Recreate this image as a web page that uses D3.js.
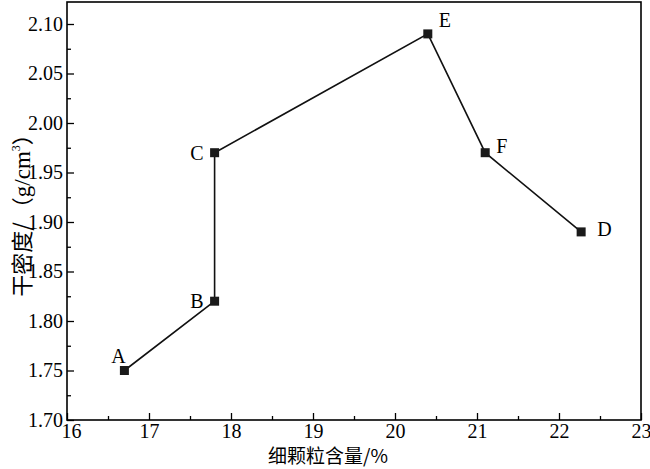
<!DOCTYPE html>
<html><head><meta charset="utf-8">
<script src="https://cdn.jsdelivr.net/npm/d3@7"></script>
<style>body{margin:0;background:#fff}</style>
</head><body>
<svg id="c" width="650" height="469"></svg>
<script>
const labels = ["A","B","C","E","F","D"];
const xValues = [16.7, 17.8, 17.8, 20.4, 21.1, 22.27];
const yValues = [1.75, 1.82, 1.97, 2.09, 1.97, 1.89];
const xTicks = [16,17,18,19,20,21,22,23];
const yTicks = [1.70,1.75,1.80,1.85,1.90,1.95,2.00,2.05,2.10];

// label placement relative to marker (style, not data)
const labelOffset = {A:[-6,-8,"middle"], B:[-11,7,"end"], C:[-11,7,"end"], E:[11,-7,"start"], F:[11,0,"start"], D:[16,4,"start"]};

const svg = d3.select("#c");
const L=67, R=641, T=2, B=420;
const x = d3.scaleLinear().domain([16,23]).range([L,R]);
const y = d3.scaleLinear().domain([1.70,2.10]).range([B,24]);
const serif = "'Liberation Serif','Times New Roman',serif";
const cjk = "'Noto Sans CJK SC','Noto Sans CJK JP',sans-serif";

// frame
svg.append("rect").attr("x",L).attr("y",T).attr("width",R-L).attr("height",B-T)
  .attr("fill","none").attr("stroke","#000").attr("stroke-width",1.6);

// x axis
const xMinor = d3.range(16.5,23,1);
const gx = svg.append("g").attr("transform",`translate(0,${B})`)
  .call(d3.axisBottom(x).tickValues(xTicks).tickSizeInner(-7).tickSizeOuter(0).tickPadding(4).tickFormat(d3.format("d")));
gx.select(".domain").remove();
gx.selectAll(".tick line").attr("stroke-width",1.3);
gx.selectAll("text").attr("font-family",serif).attr("font-size",20).attr("fill","#000")
  .attr("dx",d=>d===16?4:0);
svg.append("g").attr("transform",`translate(0,${B})`)
  .call(d3.axisBottom(x).tickValues(xMinor).tickSizeInner(-4).tickSizeOuter(0).tickFormat(""))
  .call(g=>{g.select(".domain").remove();g.selectAll(".tick line").attr("stroke-width",1.3);});

// y axis
const yMinor = d3.range(1.725,2.11,0.05);
const gy = svg.append("g").attr("transform",`translate(${L},0)`)
  .call(d3.axisLeft(y).tickValues(yTicks).tickSizeInner(-7).tickSizeOuter(0).tickPadding(4).tickFormat(d3.format(".2f")));
gy.select(".domain").remove();
gy.selectAll(".tick line").attr("stroke-width",1.3);
gy.selectAll("text").attr("font-family",serif).attr("font-size",20).attr("fill","#000");
svg.append("g").attr("transform",`translate(${L},0)`)
  .call(d3.axisLeft(y).tickValues(yMinor).tickSizeInner(-4).tickSizeOuter(0).tickFormat(""))
  .call(g=>{g.select(".domain").remove();g.selectAll(".tick line").attr("stroke-width",1.3);});

// line
const pts = xValues.map((v,i)=>({x:v,y:yValues[i],l:labels[i]}));
svg.append("path").datum(pts)
  .attr("d",d3.line().x(d=>x(d.x)).y(d=>y(d.y)))
  .attr("fill","none").attr("stroke","#111").attr("stroke-width",1.6);
svg.selectAll("rect.m").data(pts).enter().append("rect").attr("class","m")
  .attr("x",d=>x(d.x)-4.5).attr("y",d=>y(d.y)-4.5).attr("width",9).attr("height",9).attr("fill","#1a1a1a");
svg.selectAll("text.pl").data(pts).enter().append("text").attr("class","pl")
  .attr("font-family",serif).attr("font-size",20).attr("fill","#000")
  .attr("x",d=>x(d.x)+labelOffset[d.l][0])
  .attr("y",d=>y(d.y)+labelOffset[d.l][1])
  .attr("text-anchor",d=>labelOffset[d.l][2])
  .text(d=>d.l);

// axis titles
svg.append("text").attr("x",328).attr("y",463).attr("text-anchor","middle")
  .attr("font-family",cjk).attr("font-size",19).attr("fill","#000")
  .text("细颗粒含量/%");
const yt = svg.append("text").attr("transform","translate(30,210) rotate(-90)").attr("text-anchor","middle")
  .attr("font-family",cjk).attr("font-size",22).attr("fill","#000");
yt.append("tspan").text("干密度/");
yt.append("tspan").attr("dx",3).text("（");
yt.append("tspan").attr("font-family",serif).attr("font-size",23).text("g/cm");
yt.append("tspan").attr("font-family",serif).attr("font-size",12).attr("dy",-10).text("3");
yt.append("tspan").attr("dy",10).text("）");
</script>
</body></html>
